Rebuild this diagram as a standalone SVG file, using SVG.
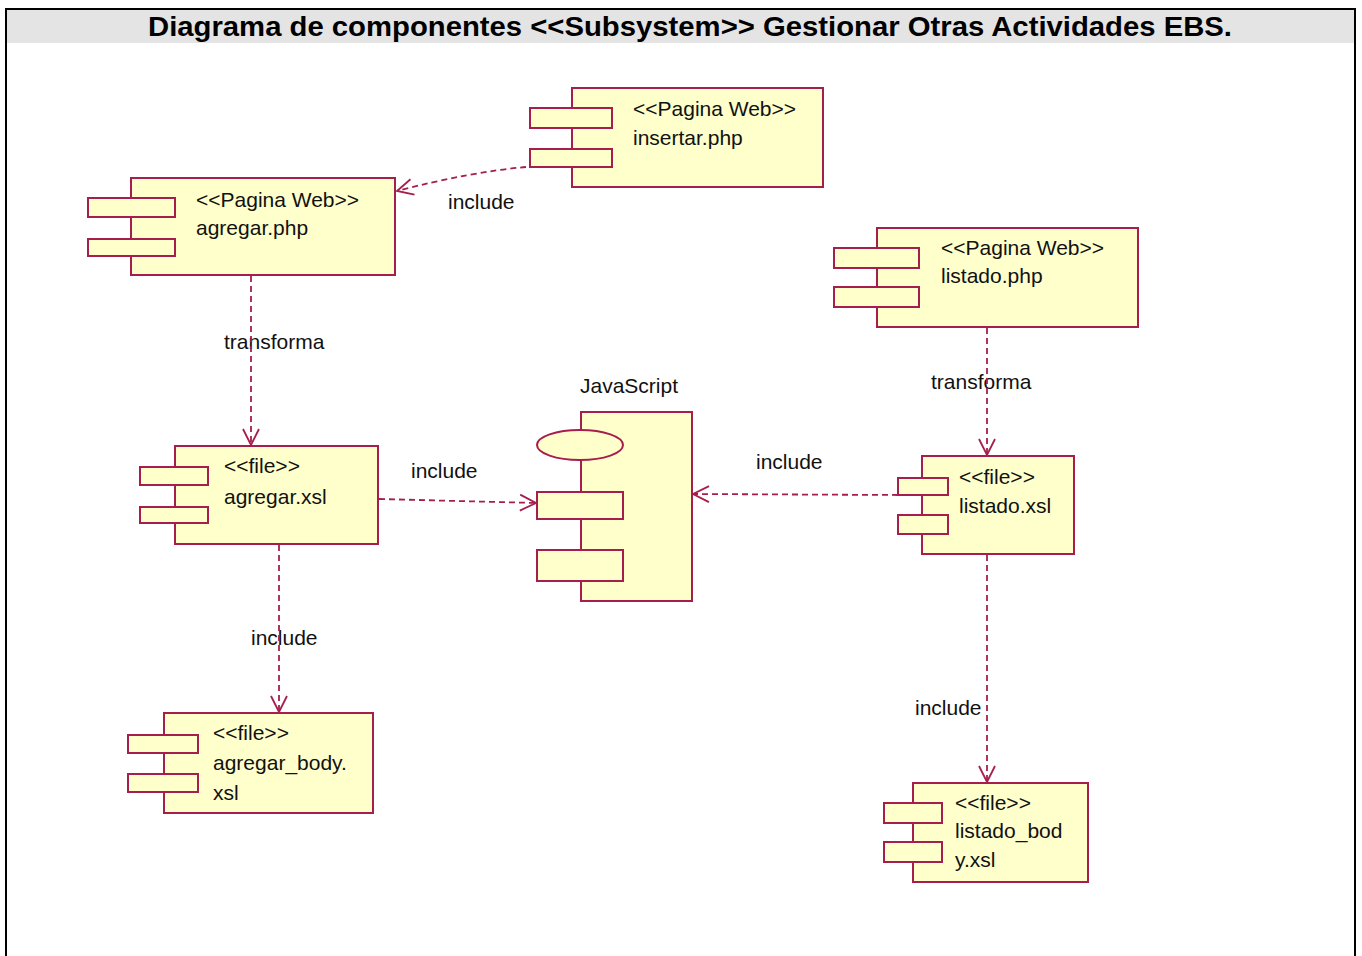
<svg xmlns="http://www.w3.org/2000/svg" width="1362" height="956" viewBox="0 0 1362 956">
  <style>
    .body { fill: #ffffcc; stroke: #a61e4d; stroke-width: 2; }
    .port { fill: #ffffcc; stroke: #a61e4d; stroke-width: 2; }
    .txt { font-family: "Liberation Sans", Arial, sans-serif; font-size: 21px; fill: #111; }
    .dep { fill: none; stroke: #a61e4d; stroke-width: 1.8; stroke-dasharray: 6 4; marker-end: url(#open); }
    .title { font-family: "Liberation Sans", Arial, sans-serif; font-size: 27px; font-weight: bold; fill: #000; }
  </style>
  <defs>
    <marker id="open" markerUnits="userSpaceOnUse" markerWidth="24" markerHeight="24" viewBox="-20 -12 24 24" refX="0" refY="0" orient="auto">
      <path d="M-16,-8 L0,0 L-16,8" fill="none" stroke="#a61e4d" stroke-width="1.8"/>
    </marker>
  </defs>

  <!-- frame and header -->
  <rect x="0" y="0" width="1362" height="956" fill="#ffffff"/>
  <rect x="6" y="9" width="1349" height="34" fill="#e4e4e4"/>
  <rect x="6" y="9" width="1349" height="960" fill="none" stroke="#000" stroke-width="2"/>
  <text class="title" x="148" y="36" textLength="1084" lengthAdjust="spacingAndGlyphs">Diagrama de componentes &lt;&lt;Subsystem&gt;&gt; Gestionar Otras Actividades EBS.</text>

  <!-- components -->
  <g id="insertar-php">
    <rect class="body" x="572" y="88" width="251" height="99"/>
    <rect class="port" x="530" y="108" width="82" height="20"/>
    <rect class="port" x="530" y="149" width="82" height="18"/>
    <text class="txt" x="633" y="116">&lt;&lt;Pagina Web&gt;&gt;</text>
    <text class="txt" x="633" y="145">insertar.php</text>
  </g>

  <g id="agregar-php">
    <rect class="body" x="131" y="178" width="264" height="97"/>
    <rect class="port" x="88" y="198" width="87" height="19"/>
    <rect class="port" x="88" y="239" width="87" height="17"/>
    <text class="txt" x="196" y="207">&lt;&lt;Pagina Web&gt;&gt;</text>
    <text class="txt" x="196" y="235">agregar.php</text>
  </g>

  <g id="listado-php">
    <rect class="body" x="877" y="228" width="261" height="99"/>
    <rect class="port" x="834" y="248" width="85" height="20"/>
    <rect class="port" x="834" y="287" width="85" height="20"/>
    <text class="txt" x="941" y="255">&lt;&lt;Pagina Web&gt;&gt;</text>
    <text class="txt" x="941" y="283">listado.php</text>
  </g>

  <g id="agregar-xsl">
    <rect class="body" x="175" y="446" width="203" height="98"/>
    <rect class="port" x="140" y="467" width="68" height="18"/>
    <rect class="port" x="140" y="507" width="68" height="16"/>
    <text class="txt" x="224" y="473">&lt;&lt;file&gt;&gt;</text>
    <text class="txt" x="224" y="504">agregar.xsl</text>
  </g>

  <g id="javascript">
    <text class="txt" x="580" y="393">JavaScript</text>
    <rect class="body" x="581" y="412" width="111" height="189"/>
    <ellipse class="port" cx="580" cy="445" rx="43" ry="15"/>
    <rect class="port" x="537" y="492" width="86" height="27"/>
    <rect class="port" x="537" y="550" width="86" height="31"/>
  </g>

  <g id="listado-xsl">
    <rect class="body" x="922" y="456" width="152" height="98"/>
    <rect class="port" x="898" y="478" width="50" height="17"/>
    <rect class="port" x="898" y="515" width="50" height="19"/>
    <text class="txt" x="959" y="484">&lt;&lt;file&gt;&gt;</text>
    <text class="txt" x="959" y="513">listado.xsl</text>
  </g>

  <g id="agregar-body-xsl">
    <rect class="body" x="164" y="713" width="209" height="100"/>
    <rect class="port" x="128" y="735" width="70" height="18"/>
    <rect class="port" x="128" y="774" width="70" height="18"/>
    <text class="txt" x="213" y="740">&lt;&lt;file&gt;&gt;</text>
    <text class="txt" x="213" y="770">agregar_body.</text>
    <text class="txt" x="213" y="800">xsl</text>
  </g>

  <g id="listado-body-xsl">
    <rect class="body" x="913" y="783" width="175" height="99"/>
    <rect class="port" x="884" y="803" width="58" height="20"/>
    <rect class="port" x="884" y="842" width="58" height="20"/>
    <text class="txt" x="955" y="810">&lt;&lt;file&gt;&gt;</text>
    <text class="txt" x="955" y="838">listado_bod</text>
    <text class="txt" x="955" y="867">y.xsl</text>
  </g>

  <!-- dependencies -->
  <g id="connectors">
    <text class="txt" x="448" y="209">include</text>
    <text class="txt" x="224" y="349">transforma</text>
    <text class="txt" x="931" y="389">transforma</text>
    <text class="txt" x="411" y="478">include</text>
    <text class="txt" x="756" y="469">include</text>
    <text class="txt" x="251" y="645">include</text>
    <text class="txt" x="915" y="715">include</text>

    <path class="dep" d="M526,167 Q470,172 397,191"/>
    <path class="dep" d="M251,276 L251,445"/>
    <path class="dep" d="M987,328 L987,455"/>
    <path class="dep" d="M379,499 L536,503"/>
    <path class="dep" d="M898,495 L693,494"/>
    <path class="dep" d="M279,545 L279,712"/>
    <path class="dep" d="M987,555 L987,782"/>
  </g>
</svg>
